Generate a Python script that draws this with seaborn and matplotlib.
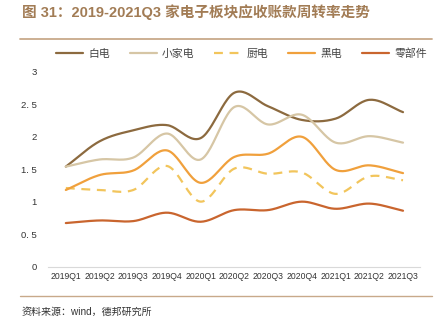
import numpy as np
import pandas as pd
import matplotlib
matplotlib.use("Agg")
import matplotlib.pyplot as plt
import seaborn as sns

quarters = ["2019Q1", "2019Q2", "2019Q3", "2019Q4", "2020Q1", "2020Q2",
            "2020Q3", "2020Q4", "2021Q1", "2021Q2", "2021Q3"]
baidian = [1.54, 1.93, 2.10, 2.18, 1.98, 2.68, 2.47, 2.26, 2.28, 2.57, 2.38]
xiaojiadian = [1.54, 1.65, 1.68, 2.05, 1.65, 2.46, 2.19, 2.34, 1.91, 2.01, 1.91]
chudian = [1.21, 1.18, 1.18, 1.55, 1.00, 1.51, 1.43, 1.45, 1.12, 1.39, 1.33]
heidian = [1.18, 1.41, 1.48, 1.79, 1.29, 1.69, 1.74, 2.00, 1.49, 1.56, 1.44]
lingbujian = [0.67, 0.71, 0.70, 0.83, 0.69, 0.87, 0.87, 1.00, 0.89, 0.97, 0.86]
series_names = ["白电", "小家电", "厨电", "黑电", "零部件"]
yticks = [0, 0.5, 1, 1.5, 2, 2.5, 3]
ytick_labels = ["0", "0. 5", "1", "1. 5", "2", "2. 5", "3"]

sns.set_style("white")
plt.rcParams['font.family'] = ['Liberation Sans', 'Noto Sans CJK SC', 'DejaVu Sans']

colors = ["#8C6A3F", "#D6C6A5", "#F2C55C", "#F0A03C", "#C9652E"]
styles = ["-", "-", "--", "-", "-"]
data = [baidian, xiaojiadian, chudian, heidian, lingbujian]


def smooth(y, n=24):
    # Catmull-Rom rendering of the line through the data points (display only)
    y = np.asarray(y, float)
    x = np.arange(len(y), dtype=float)
    P = np.column_stack([x, y])
    P = np.vstack([P[0] - (P[1] - P[0]), P, P[-1] + (P[-1] - P[-2])])
    out = []
    t = np.linspace(0, 1, n, endpoint=False)[:, None]
    for i in range(1, len(P) - 2):
        p0, p1, p2, p3 = P[i - 1], P[i], P[i + 1], P[i + 2]
        seg = 0.5 * ((2 * p1) + (-p0 + p2) * t + (2 * p0 - 5 * p1 + 4 * p2 - p3) * t ** 2
                     + (-p0 + 3 * p1 - 3 * p2 + p3) * t ** 3)
        out.append(seg)
    out.append(P[-2][None, :])
    out = np.vstack(out)
    return out[:, 0], out[:, 1]


fig = plt.figure(figsize=(4.36, 3.27), dpi=100)
ax = fig.add_axes([0.110, 0.185, 0.853, 0.595])

for name, vals, c, ls in zip(series_names, data, colors, styles):
    xs, ys = smooth(vals)
    df = pd.DataFrame({"x": xs, "y": ys})
    sns.lineplot(data=df, x="x", y="y", ax=ax, color=c, linewidth=1.6,
                 linestyle=ls, label=name, sort=False, estimator=None)
    if ls == "--":
        ax.lines[-1].set_dashes([4, 3])

ax.set_xlim(-0.53, 10.5)
ax.set_ylim(0, 3)
ax.set_xticks(range(len(quarters)))
ax.set_xticklabels(quarters, fontsize=6.2, color="#333333")
ax.set_yticks(yticks)
ax.set_yticklabels(ytick_labels, fontsize=6.8, color="#333333")
ax.set_xlabel("")
ax.set_ylabel("")
for s in ["top", "right", "left"]:
    ax.spines[s].set_visible(False)
ax.spines["bottom"].set_color("#D9D9D9")
ax.spines["bottom"].set_linewidth(0.8)
ax.tick_params(axis="both", length=0, pad=4)
ax.tick_params(axis="y", pad=8)

leg = ax.legend(loc="upper center", bbox_to_anchor=(0.52, 1.17), ncol=5, frameon=False,
                fontsize=7.8, handlelength=2.5, columnspacing=1.8, handletextpad=0.5)
for t in leg.get_texts():
    t.set_color("#444444")

fig.text(0.05, 0.963, "图 31：2019-2021Q3 家电子板块应收账款周转率走势", fontsize=10.5,
         fontweight="bold", color="#A27C55", va="center", ha="left")
fig.add_artist(plt.Line2D([0.046, 0.99], [0.881, 0.881], color="#C8A98A", linewidth=1.3,
                          transform=fig.transFigure))
fig.add_artist(plt.Line2D([0.046, 0.99], [0.095, 0.095], color="#C8A98A", linewidth=1.0,
                          transform=fig.transFigure))
fig.text(0.05, 0.047, "资料来源：wind，德邦研究所", fontsize=7.2, color="#333333",
         va="center", ha="left")

fig.savefig("out.png", dpi=100)
